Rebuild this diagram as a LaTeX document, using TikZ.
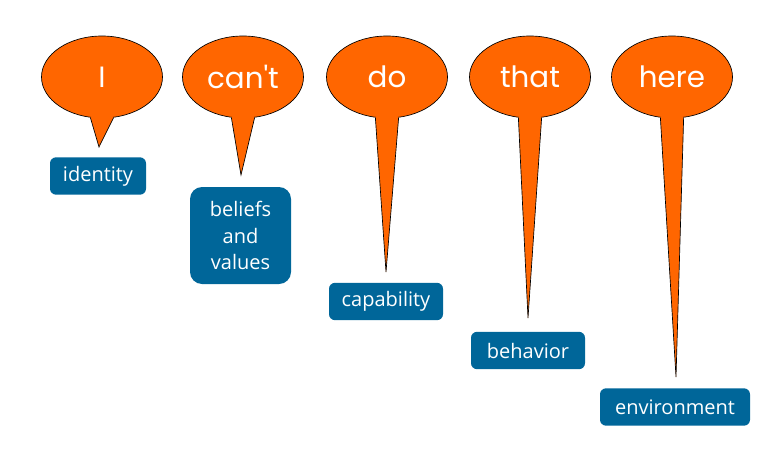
\documentclass[tikz,border=0pt]{standalone}
\usepackage{fontspec}
\setmainfont{Open Sans}
\newfontfamily\wordfont{Poppins}
\usetikzlibrary{shapes.geometric,calc}
\definecolor{bubbleorange}{HTML}{FF6600}
\definecolor{levelblue}{HTML}{006699}

\begin{document}
\begin{tikzpicture}[
        x=0.75pt,
        y=-0.75pt,
        bubble/.style={
            ellipse,
            draw=black,
            line width=0.5pt,
            fill=bubbleorange,
            minimum width=90.75pt,
            minimum height=61.5pt,
            inner sep=0pt,
            text=white,
            font=\wordfont\fontsize{22}{26}\selectfont
        },
        tail/.style={fill=bubbleorange},
        tailedge/.style={draw=black, line width=0.5pt},
        level/.style={
            rectangle,
            fill=levelblue,
            rounded corners=4.5pt,
            inner sep=0pt,
            minimum height=28pt,
            text=white,
            align=center,
            font=\fontsize{15}{20}\selectfont
        }
    ]
    \useasboundingbox (0,0) rectangle (780,467);

    % Bubbles
    \node[bubble] (wI) at (102,77) {I};
    \node[bubble] (wCant) at (243,77) {can't};
    \node[bubble] (wDo) at (387,77) {do};
    \node[bubble] (wThat) at (530,77) {that};
    \node[bubble] (wHere) at (672,77) {here};

    % Tail tips
    \coordinate (tI) at (99,147);
    \coordinate (tCant) at (241,175);
    \coordinate (tDo) at (386,272);
    \coordinate (tThat) at (528,318);
    \coordinate (tHere) at (676,377);

    % Tails
    \fill[tail] (wI.-106) -- (tI) -- (wI.-74) -- ($(wI.-90)!0.2!(wI.center)$) -- cycle;
    \draw[tailedge] (wI.-106) -- (tI) -- (wI.-74);

    \fill[tail] (wCant.-106) -- (tCant) -- (wCant.-74) -- ($(wCant.-90)!0.2!(wCant.center)$) -- cycle;
    \draw[tailedge] (wCant.-106) -- (tCant) -- (wCant.-74);

    \fill[tail] (wDo.-106) -- (tDo) -- (wDo.-74) -- ($(wDo.-90)!0.2!(wDo.center)$) -- cycle;
    \draw[tailedge] (wDo.-106) -- (tDo) -- (wDo.-74);

    \fill[tail] (wThat.-106) -- (tThat) -- (wThat.-74) -- ($(wThat.-90)!0.2!(wThat.center)$) -- cycle;
    \draw[tailedge] (wThat.-106) -- (tThat) -- (wThat.-74);

    \fill[tail] (wHere.-106) -- (tHere) -- (wHere.-74) -- ($(wHere.-90)!0.2!(wHere.center)$) -- cycle;
    \draw[tailedge] (wHere.-106) -- (tHere) -- (wHere.-74);

    % Levels
    \node[level, minimum width=72pt] (identity) at (98,176) {identity};
    \node[level, minimum width=75.75pt, minimum height=72.75pt, rounded corners=9pt] (beliefs) at (240.5,235.5) {beliefs\\and\\values};
    \node[level, minimum width=85.5pt] (capability) at (386,301.5) {capability};
    \node[level, minimum width=85.5pt] (behavior) at (528,350.5) {behavior};
    \node[level, minimum width=112.5pt] (environment) at (675,407) {environment};

\end{tikzpicture}
\end{document}
